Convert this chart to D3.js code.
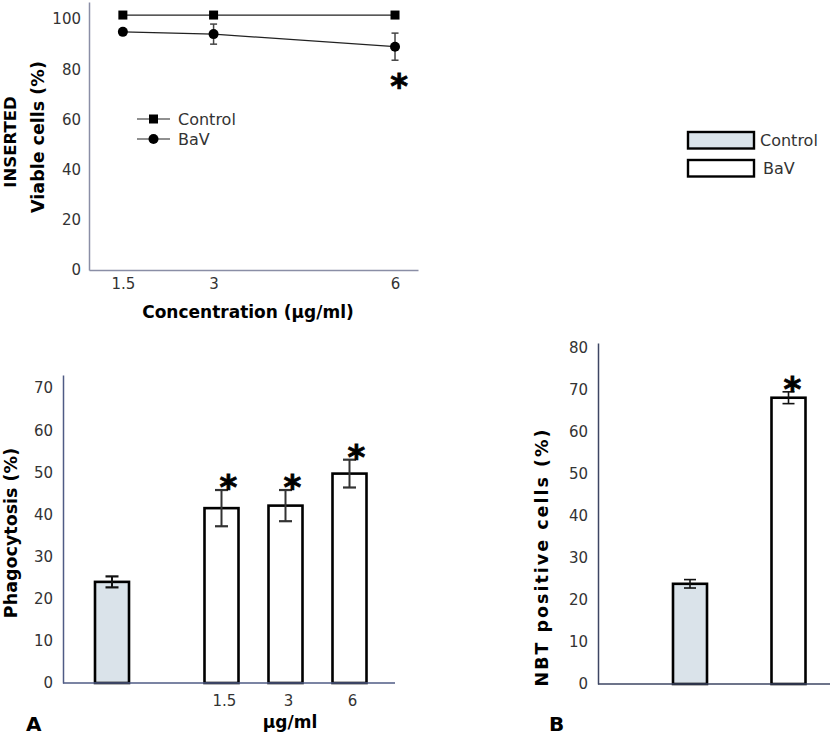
<!DOCTYPE html>
<html>
<head>
<meta charset="utf-8">
<script src="https://cdn.jsdelivr.net/npm/d3@7"></script>
<style>
  html, body { margin: 0; padding: 0; background: #fff; }
  svg { display: block; font-family: "DejaVu Sans", Verdana, sans-serif; }
</style>
</head>
<body>
<svg id="chart" width="830" height="738"></svg>
<script>
// ---------- DATA ----------
// Inset: viability
const viabConc = [1.5, 3, 6];
const viabControl = [101.6, 101.6, 101.6];
const viabBaV = [94.9, 94.0, 89.0];
const viabBaVErr = [0.4, 4.0, 5.4];
const viabSig = [false, false, true];
const viabYTicks = [0, 20, 40, 60, 80, 100];
const viabXTicks = [1.5, 3, 6];

// Panel A: phagocytosis
const phagoGroups = ["Control", "1.5", "3", "6"];
const phagoSeries = ["Control", "BaV", "BaV", "BaV"];
const phagoValues = [24.0, 41.5, 42.1, 49.7];
const phagoErr = [1.3, 4.3, 3.7, 3.3];
const phagoSig = [false, true, true, true];
const phagoTickLabels = ["", "1.5", "3", "6"];
const phagoYTicks = [0, 10, 20, 30, 40, 50, 60, 70];

// Panel B: NBT positive cells
const nbtGroups = ["Control", "BaV"];
const nbtValues = [23.8, 68.0];
const nbtErr = [1.0, 1.4];
const nbtSig = [false, true];
const nbtYTicks = [0, 10, 20, 30, 40, 50, 60, 70, 80];

const seriesNames = ["Control", "BaV"];
const seriesFill = { Control: "#dae3ea", BaV: "#ffffff" };

// ---------- STYLE ----------
const tickColor = "#333";
const svg = d3.select("#chart");

function styleAxis(g, color, fs) {
  g.select(".domain").attr("stroke", color).attr("stroke-width", 1.5);
  g.selectAll(".tick line").remove();
  g.selectAll(".tick text").attr("fill", tickColor).style("font-size", (fs || 15) + "px")
    .style("font-family", "'DejaVu Sans', Verdana, sans-serif");
}

function asterisk(g, x, yCenter, size) {
  g.append("text").attr("x", x).attr("y", yCenter + size * 0.57)
    .attr("text-anchor", "middle").attr("font-weight", "bold")
    .attr("stroke", "#000").attr("stroke-width", 0.8)
    .style("font-size", size + "px").attr("fill", "#000").text("*");
}

// ---------- INSET LINE CHART ----------
{
  const x = d3.scaleLinear().domain([0.94, 6.38]).range([89, 418]);
  const y = d3.scaleLinear().domain([0, 106.8]).range([270, 2]);
  const g = svg.append("g");

  const xa = g.append("g").attr("transform", "translate(0,270)")
    .call(d3.axisBottom(x).tickValues(viabXTicks).tickFormat(d3.format("")).tickSize(0).tickPadding(8).tickSizeOuter(0));
  styleAxis(xa, "#8a8ea6");
  const ya = g.append("g").attr("transform", "translate(89,0)")
    .call(d3.axisLeft(y).tickValues(viabYTicks).tickSize(0).tickPadding(8).tickSizeOuter(0));
  styleAxis(ya, "#8a8ea6");

  const line = d3.line().x((d, i) => x(viabConc[i])).y(d => y(d));
  g.append("path").datum(viabControl).attr("d", line).attr("fill", "none").attr("stroke", "#222").attr("stroke-width", 1.2);
  g.append("path").datum(viabBaV).attr("d", line).attr("fill", "none").attr("stroke", "#222").attr("stroke-width", 1.2);

  viabBaV.forEach((v, i) => {
    const cx = x(viabConc[i]);
    const y1 = y(v + viabBaVErr[i]), y2 = y(v - viabBaVErr[i]);
    g.append("line").attr("x1", cx).attr("x2", cx).attr("y1", y1).attr("y2", y2).attr("stroke", "#444").attr("stroke-width", 1.5);
    [y1, y2].forEach(yy => g.append("line").attr("x1", cx - 3.5).attr("x2", cx + 3.5).attr("y1", yy).attr("y2", yy).attr("stroke", "#444").attr("stroke-width", 1.5));
  });

  g.selectAll(".sq").data(viabControl).join("rect")
    .attr("x", (d, i) => x(viabConc[i]) - 4.5).attr("y", d => y(d) - 4.5)
    .attr("width", 9).attr("height", 9).attr("fill", "#000");
  g.selectAll(".ci").data(viabBaV).join("circle")
    .attr("cx", (d, i) => x(viabConc[i])).attr("cy", d => y(d)).attr("r", 5).attr("fill", "#000");

  viabBaV.forEach((v, i) => {
    if (viabSig[i]) asterisk(g, x(viabConc[i]) + 4, y(v - viabBaVErr[i]) + 18, 34);
  });

  const lg = g.append("g");
  seriesNames.forEach((s, i) => {
    const ly = 119 + i * 20;
    lg.append("line").attr("x1", 137).attr("x2", 170).attr("y1", ly).attr("y2", ly).attr("stroke", "#222").attr("stroke-width", 1.2);
    if (s === "Control") lg.append("rect").attr("x", 149).attr("y", ly - 4.5).attr("width", 9).attr("height", 9).attr("fill", "#000");
    else lg.append("circle").attr("cx", 153.5).attr("cy", ly).attr("r", 5).attr("fill", "#000");
    lg.append("text").attr("x", 178).attr("y", ly + 6).attr("fill", tickColor).style("font-size", "16px").text(s);
  });

  g.append("text").attr("transform", "translate(16,142) rotate(-90)").attr("text-anchor", "middle")
    .attr("font-weight", "bold").style("font-size", "16.5px").text("INSERTED");
  g.append("text").attr("transform", "translate(44,137) rotate(-90)").attr("text-anchor", "middle")
    .attr("font-weight", "bold").style("font-size", "17.5px").text("Viable cells (%)");
  g.append("text").attr("x", 248).attr("y", 318).attr("text-anchor", "middle")
    .attr("font-weight", "bold").style("font-size", "17px").text("Concentration (\u03bcg/ml)");
}

// ---------- PANEL A ----------
{
  const x = d3.scaleBand().domain(phagoGroups).range([102.75, 358.75]).padding(0);
  const xs = d3.scaleBand().domain(seriesNames).range([-7.75, 71.75]).paddingInner(0.2527).paddingOuter(0);
  const y = d3.scaleLinear().domain([0, 73.1]).range([683, 375]);
  const g = svg.append("g");

  const ya = g.append("g").attr("transform", "translate(63,0)")
    .call(d3.axisLeft(y).tickValues(phagoYTicks).tickSize(0).tickPadding(10).tickSizeOuter(0));
  styleAxis(ya, "#4f5b85");

  const bx = i => x(phagoGroups[i]) + xs(phagoSeries[i]);
  const bw = xs.bandwidth();

  g.selectAll(".bar").data(phagoValues).join("rect")
    .attr("x", (d, i) => bx(i)).attr("y", d => y(d))
    .attr("width", bw).attr("height", d => y(0) - y(d))
    .attr("fill", (d, i) => seriesFill[phagoSeries[i]])
    .attr("stroke", "#000").attr("stroke-width", 2.6);

  g.append("line").attr("x1", 63).attr("x2", 395).attr("y1", y(0)).attr("y2", y(0))
    .attr("stroke", "#4f5b85").attr("stroke-width", 1.5);

  phagoValues.forEach((v, i) => {
    const cx = bx(i) + bw / 2;
    const y1 = y(v + phagoErr[i]), y2 = y(v - phagoErr[i]);
    const col = phagoSeries[i] === "Control" ? "#111" : "#333";
    g.append("line").attr("x1", cx).attr("x2", cx).attr("y1", y1).attr("y2", y2).attr("stroke", col).attr("stroke-width", 2);
    [y1, y2].forEach(yy => g.append("line").attr("x1", cx - 6.5).attr("x2", cx + 6.5).attr("y1", yy).attr("y2", yy).attr("stroke", col).attr("stroke-width", 2.2));
    if (phagoSig[i]) asterisk(g, cx + 7, y1 - 10, 34);
    if (phagoTickLabels[i]) g.append("text").attr("x", cx + 3).attr("y", 706).attr("text-anchor", "middle")
      .attr("fill", tickColor).style("font-size", "15px").text(phagoTickLabels[i]);
  });

  g.append("text").attr("transform", "translate(17,533) rotate(-90)").attr("text-anchor", "middle")
    .attr("font-weight", "bold").style("font-size", "17.5px").text("Phagocytosis (%)");
  g.append("text").attr("x", 290).attr("y", 728).attr("text-anchor", "middle")
    .attr("font-weight", "bold").style("font-size", "17px").text("\u03bcg/ml");
  g.append("text").attr("x", 26).attr("y", 731)
    .attr("font-weight", "bold").style("font-size", "20px").text("A");
}

// ---------- PANEL B ----------
{
  const x = d3.scaleBand().domain(nbtGroups).range([623.75, 854.75]).paddingInner(0.6548).paddingOuter(0.5);
  const y = d3.scaleLinear().domain([0, 81]).range([684, 343]);
  const g = svg.append("g");

  const ya = g.append("g").attr("transform", "translate(598,0)")
    .call(d3.axisLeft(y).tickValues(nbtYTicks).tickSize(0).tickPadding(10).tickSizeOuter(0));
  styleAxis(ya, "#3d4663");

  g.selectAll(".bar").data(nbtValues).join("rect")
    .attr("x", (d, i) => x(nbtGroups[i])).attr("y", d => y(d))
    .attr("width", x.bandwidth()).attr("height", d => y(0) - y(d))
    .attr("fill", (d, i) => seriesFill[nbtGroups[i]])
    .attr("stroke", "#000").attr("stroke-width", 2.6);

  g.append("line").attr("x1", 598).attr("x2", 830).attr("y1", y(0)).attr("y2", y(0))
    .attr("stroke", "#3d4663").attr("stroke-width", 1.5);

  nbtValues.forEach((v, i) => {
    const cx = x(nbtGroups[i]) + x.bandwidth() / 2;
    const y1 = y(v + nbtErr[i]), y2 = y(v - nbtErr[i]);
    g.append("line").attr("x1", cx).attr("x2", cx).attr("y1", y1).attr("y2", y2).attr("stroke", "#111").attr("stroke-width", 1.6);
    [y1, y2].forEach(yy => g.append("line").attr("x1", cx - 6).attr("x2", cx + 6).attr("y1", yy).attr("y2", yy).attr("stroke", "#111").attr("stroke-width", 1.6));
    if (nbtSig[i]) asterisk(g, cx + 4, y1 - 10, 34);
  });

  g.append("text").attr("transform", "translate(548,557) rotate(-90)").attr("text-anchor", "middle")
    .attr("font-weight", "bold").style("font-size", "17.5px").style("letter-spacing", "2px").text("NBT positive cells (%)");
  g.append("text").attr("x", 549).attr("y", 731)
    .attr("font-weight", "bold").style("font-size", "20px").text("B");

  nbtGroups.forEach((s, i) => {
    const ly = 132 + i * 28;
    g.append("rect").attr("x", 688).attr("y", ly).attr("width", 66).attr("height", 16.5)
      .attr("fill", seriesFill[s]).attr("stroke", "#000").attr("stroke-width", 2.4);
    g.append("text").attr("x", i === 0 ? 760 : 763).attr("y", ly + 14).attr("fill", tickColor)
      .style("font-size", "16px").text(s);
  });
}
</script>
</body>
</html>
